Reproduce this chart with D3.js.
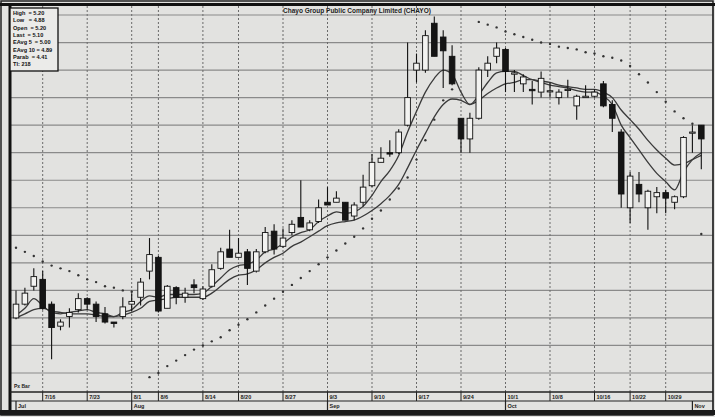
<!DOCTYPE html>
<html><head><meta charset="utf-8">
<script src="https://cdn.jsdelivr.net/npm/d3@7"></script>
<style>body{margin:0;background:#e2e2e0}svg{display:block}</style>
</head><body><svg id="c" width="715" height="417"></svg>
<script>
// ---- data ----
const openP  = [3.80,3.90,4.03,4.08,3.90,3.74,3.81,3.86,3.94,3.90,3.83,3.77,3.81,3.90,3.95,4.14,4.24,3.87,4.02,3.95,4.04,3.94,4.03,4.16,4.30,4.24,4.28,4.14,4.28,4.43,4.32,4.42,4.53,4.44,4.50,4.64,4.64,4.64,4.54,4.64,4.76,4.93,5.00,5.00,5.20,5.60,5.60,5.94,5.84,5.70,5.25,5.10,5.25,5.60,5.70,5.75,5.57,5.50,5.46,5.44,5.45,5.40,5.46,5.34,5.40,5.41,5.50,5.35,5.15,4.60,4.77,4.60,4.68,4.71,4.64,4.68,5.15,5.20];
const highP  = [4.00,4.02,4.16,4.14,3.92,3.79,3.87,3.98,3.95,3.92,3.88,3.77,3.95,3.98,4.09,4.38,4.25,4.04,4.03,4.02,4.08,4.03,4.19,4.31,4.44,4.38,4.30,4.30,4.46,4.48,4.45,4.51,4.80,4.51,4.66,4.75,4.72,4.64,4.64,4.84,4.99,5.04,5.09,5.17,5.80,5.72,5.89,5.99,5.89,5.78,5.25,5.29,5.62,5.70,5.80,5.76,5.60,5.57,5.52,5.59,5.51,5.46,5.53,5.42,5.49,5.46,5.52,5.38,5.17,4.86,4.86,4.73,4.75,4.73,4.69,5.12,5.20,5.20];
const lowP   = [3.79,3.89,4.00,3.86,3.50,3.71,3.73,3.84,3.86,3.77,3.76,3.73,3.79,3.85,3.89,4.08,3.84,3.87,3.90,3.91,3.98,3.93,4.02,4.15,4.24,4.24,4.04,4.13,4.27,4.26,4.31,4.40,4.46,4.43,4.49,4.62,4.64,4.51,4.51,4.61,4.75,4.93,4.97,4.99,5.19,5.51,5.58,5.70,5.47,5.49,5.00,5.00,5.24,5.55,5.65,5.44,5.44,5.44,5.35,5.40,5.40,5.35,5.40,5.24,5.40,5.40,5.33,5.15,4.60,4.49,4.64,4.44,4.56,4.56,4.59,4.67,5.00,4.88];
const closeP = [3.90,3.98,4.10,3.87,3.73,3.77,3.84,3.94,3.90,3.81,3.77,3.76,3.88,3.92,4.06,4.26,3.85,4.03,3.95,3.98,4.02,4.01,4.15,4.28,4.24,4.27,4.16,4.28,4.42,4.30,4.38,4.48,4.46,4.49,4.60,4.62,4.67,4.51,4.62,4.75,4.93,4.96,4.99,5.15,5.40,5.65,5.85,5.70,5.74,5.50,5.10,5.25,5.60,5.65,5.76,5.59,5.58,5.55,5.45,5.54,5.45,5.44,5.46,5.41,5.41,5.44,5.34,5.25,4.70,4.83,4.70,4.72,4.71,4.67,4.68,5.11,5.15,5.10];
const eavg5  = [3.82,3.87,3.94,3.89,3.84,3.83,3.84,3.85,3.86,3.84,3.83,3.81,3.84,3.86,3.92,3.96,3.95,3.97,3.97,3.97,3.97,3.98,4.03,4.09,4.15,4.18,4.19,4.22,4.28,4.30,4.34,4.39,4.42,4.44,4.50,4.54,4.57,4.56,4.57,4.61,4.69,4.79,4.87,4.98,5.15,5.30,5.44,5.54,5.60,5.57,5.44,5.35,5.42,5.51,5.58,5.59,5.59,5.56,5.53,5.51,5.49,5.48,5.47,5.45,5.44,5.44,5.41,5.35,5.20,5.11,5.02,4.93,4.85,4.79,4.73,4.86,4.95,5.00];
const eavg10 = [3.80,3.83,3.86,3.87,3.85,3.84,3.83,3.83,3.83,3.82,3.81,3.81,3.82,3.84,3.87,3.92,3.93,3.94,3.95,3.95,3.95,3.95,3.98,4.03,4.08,4.11,4.12,4.15,4.20,4.24,4.27,4.32,4.35,4.39,4.43,4.47,4.49,4.50,4.51,4.54,4.58,4.63,4.69,4.77,4.89,5.02,5.14,5.26,5.35,5.39,5.38,5.35,5.38,5.43,5.47,5.50,5.51,5.53,5.53,5.52,5.51,5.49,5.48,5.47,5.46,5.46,5.44,5.40,5.31,5.24,5.17,5.09,5.02,4.96,4.91,4.92,4.95,4.98];
const parab  = [4.31,4.28,4.25,4.21,4.18,4.16,4.14,4.11,4.08,4.06,4.03,4.02,4.00,3.99,null,3.37,3.40,3.45,3.49,3.53,3.57,3.60,3.63,3.66,3.71,3.75,3.79,3.84,3.89,3.94,3.99,4.04,4.09,4.14,4.19,4.24,4.29,4.34,4.39,4.45,4.52,4.58,4.66,4.74,4.82,4.95,5.09,5.24,5.38,5.46,null,null,5.95,5.93,5.91,5.88,5.86,5.84,5.82,5.80,5.79,5.77,5.76,5.75,5.73,5.72,5.70,5.69,5.67,5.63,5.57,5.51,5.44,5.37,5.30,5.25,5.21,4.41];
const weekTickIdx  = [3,8,13,16,21,25,30,35,40,45,50,55,60,65,69,73];
const weekLabels   = ["7/16","7/23","8/1","8/6","8/14","8/20","8/27","9/3","9/10","9/17","9/24","10/1","10/8","10/16","10/22","10/29"];
const monthTickIdx = [0,13,35,55,76];
const monthLabels  = ["Jul","Aug","Sep","Oct","Nov"];
const priceGrid    = [3.4,3.6,3.8,4.0,4.2,4.4,4.6,4.8,5.0,5.2,5.4,5.6,5.8,6.0];
const legendLines  = ["High  = 5.20","Low   = 4.88","Open  = 5.20","Last  = 5.10","EAvg 5  = 5.00","EAvg 10 = 4.89","Parab  = 4.41","TI: 218"];
const title = "Chayo Group Public Company Limited (CHAYO)";

// ---- drawing ----
const svg = d3.select("#c");
const n = closeP.length;
const x = d3.scaleLinear().domain([0, n - 1]).range([16, 16 + 8.9 * (n - 1)]);
const y = d3.scaleLinear().domain([3.4, 6.0]).range([373, 15]);
const PL = 10, PR = 713, PT = 6, PB = 392;
const font = "'Liberation Sans', Arial, sans-serif";

svg.append("rect").attr("width", 715).attr("height", 417).attr("fill", "#e2e2e0");

// horizontal grid
svg.append("g").selectAll("line").data(priceGrid).join("line")
  .attr("x1", PL).attr("x2", PR).attr("y1", d => y(d)).attr("y2", d => y(d))
  .attr("stroke", "#8a8a8a").attr("stroke-width", 1.2);
// vertical grid (dashed)
svg.append("g").selectAll("line").data(weekTickIdx).join("line")
  .attr("x1", d => x(d)).attr("x2", d => x(d)).attr("y1", PT).attr("y2", PB)
  .attr("stroke", "#6a6a6a").attr("stroke-width", 1).attr("stroke-dasharray", "2,2");

// parabolic SAR dots
svg.append("g").selectAll("circle").data(parab.map((v, i) => [i, v]).filter(d => d[1] != null)).join("circle")
  .attr("cx", d => x(d[0])).attr("cy", d => y(d[1])).attr("r", 1.2).attr("fill", "#333");

// EMA lines
const line = d3.line().x((d, i) => x(i)).y(d => y(d)).curve(d3.curveMonotoneX);
svg.append("path").attr("d", line(eavg10)).attr("fill", "none").attr("stroke", "#3a3a3a").attr("stroke-width", 1.3);
svg.append("path").attr("d", line(eavg5)).attr("fill", "none").attr("stroke", "#3a3a3a").attr("stroke-width", 1.3);

// candles
const idx = d3.range(n);
const cg = svg.append("g");
cg.selectAll("line").data(idx).join("line")
  .attr("x1", i => x(i)).attr("x2", i => x(i))
  .attr("y1", i => y(highP[i])).attr("y2", i => y(lowP[i]))
  .attr("stroke", "#111").attr("stroke-width", 1.1);
cg.selectAll("rect").data(idx).join("rect")
  .attr("x", i => x(i) - 2.8).attr("width", 5.6)
  .attr("y", i => y(Math.max(openP[i], closeP[i])))
  .attr("height", i => Math.max(1.2, Math.abs(y(openP[i]) - y(closeP[i]))))
  .attr("fill", i => closeP[i] >= openP[i] ? "#f3f3f1" : "#151515")
  .attr("stroke", "#111").attr("stroke-width", 0.9);

// frame
svg.append("rect").attr("x", 1).attr("y", 1).attr("width", 712).attr("height", 414)
  .attr("fill", "none").attr("stroke", "#222").attr("stroke-width", 1.5);
svg.append("rect").attr("x", 0).attr("y", 3).attr("width", 715).attr("height", 3).attr("fill", "#111");
svg.append("rect").attr("x", PL - 1.5).attr("y", PT).attr("width", 3).attr("height", 410 - PT).attr("fill", "#111");
svg.append("line").attr("x1", PR).attr("x2", PR).attr("y1", PT).attr("y2", 411).attr("stroke", "#333").attr("stroke-width", 1.2);
svg.append("line").attr("x1", PL).attr("x2", PR).attr("y1", PB).attr("y2", PB).attr("stroke", "#222").attr("stroke-width", 1.3);
svg.append("line").attr("x1", PL).attr("x2", PR).attr("y1", 401).attr("y2", 401).attr("stroke", "#222").attr("stroke-width", 1.2);
svg.append("rect").attr("x", 0).attr("y", 410).attr("width", 715).attr("height", 5).attr("fill", "#1a1a1a");

// title
svg.append("text").attr("x", 357).attr("y", 13).attr("text-anchor", "middle")
  .attr("font-family", font).attr("font-size", 6.5).attr("font-weight", "bold").attr("fill", "#222").text(title);

// legend box
svg.append("rect").attr("x", PL).attr("y", 8).attr("width", 48).attr("height", 63)
  .attr("fill", "#ebebe9").attr("stroke", "#111").attr("stroke-width", 1.3);
svg.append("g").selectAll("text").data(legendLines).join("text")
  .attr("x", PL + 3).attr("y", (d, i) => 15 + i * 7.3)
  .attr("font-family", font).attr("font-size", 5.6).attr("font-weight", "bold").attr("fill", "#111")
  .attr("xml:space", "preserve").text(d => d);

// bottom-left caption
svg.append("text").attr("x", 14).attr("y", 388).attr("font-family", font).attr("font-size", 5).attr("font-weight", "bold").attr("fill", "#222").text("Px Bar");

// x axis: week labels
const xa = svg.append("g");
xa.selectAll("line").data(weekTickIdx).join("line")
  .attr("x1", d => x(d)).attr("x2", d => x(d)).attr("y1", PB).attr("y2", 401).attr("stroke", "#222").attr("stroke-width", 1);
xa.selectAll("text").data(weekTickIdx).join("text")
  .attr("x", d => x(d) + 2).attr("y", 398.5)
  .attr("font-family", font).attr("font-size", 5.5).attr("font-weight", "bold").attr("fill", "#222")
  .text((d, i) => weekLabels[i]);
// month row
const ma = svg.append("g");
ma.selectAll("line").data(monthTickIdx).join("line")
  .attr("x1", d => x(d)).attr("x2", d => x(d)).attr("y1", 401).attr("y2", 410).attr("stroke", "#222").attr("stroke-width", 1.2);
ma.selectAll("text").data(monthTickIdx).join("text")
  .attr("x", d => x(d) + 2).attr("y", 407.5)
  .attr("font-family", font).attr("font-size", 5.5).attr("font-weight", "bold").attr("fill", "#222")
  .text((d, i) => monthLabels[i]);
</script></body></html>
